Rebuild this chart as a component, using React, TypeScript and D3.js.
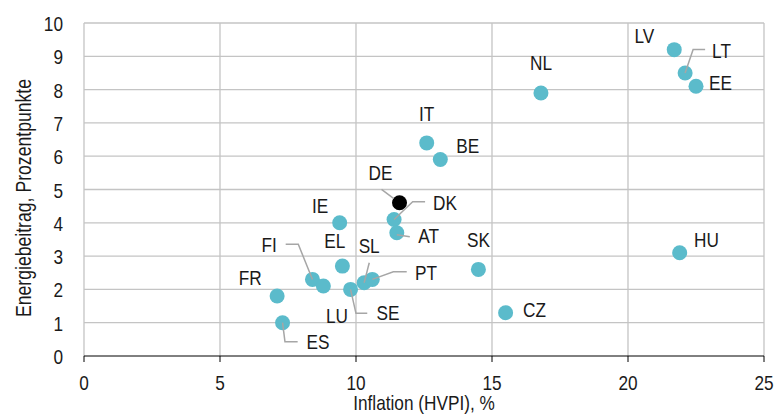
import React from "react";
import * as d3 from "d3";

const countries = ["LV", "LT", "EE", "NL", "IT", "BE", "DE", "DK", "AT", "IE", "EL", "SK", "HU", "CZ", "FI", "LU", "SE", "SL", "PT", "FR", "ES"];
const inflation = [21.7, 22.1, 22.5, 16.8, 12.6, 13.1, 11.6, 11.4, 11.5, 9.4, 9.5, 14.5, 21.9, 15.5, 8.4, 8.8, 9.8, 10.3, 10.6, 7.1, 7.3];
const energy = [9.2, 8.5, 8.1, 7.9, 6.4, 5.9, 4.6, 4.1, 3.7, 4.0, 2.7, 2.6, 3.1, 1.3, 2.3, 2.1, 2.0, 2.2, 2.3, 1.8, 1.0];
const highlighted = ["DE"];
const xTicks = [0, 5, 10, 15, 20, 25];
const yTicks = [0, 1, 2, 3, 4, 5, 6, 7, 8, 9, 10];
const xTitle = "Inflation (HVPI), %";
const yTitle = "Energiebeitrag, Prozentpunkte";

// label layout: offsets (px) from the point, anchor, optional leader polyline
type Lay = { dx: number; dy: number; anchor: string; leader?: [number, number][] };
const labelLayout: Record<string, Lay> = {
  LV: { dx: -20, dy: -7, anchor: "end" },
  LT: { dx: 27, dy: -15, anchor: "start", leader: [[0, 0], [8, -23.5], [20, -23.5]] },
  EE: { dx: 13, dy: 4, anchor: "start" },
  NL: { dx: 0, dy: -23, anchor: "middle" },
  IT: { dx: 0, dy: -22, anchor: "middle" },
  BE: { dx: 16, dy: -7, anchor: "start" },
  DE: { dx: -7, dy: -23, anchor: "end", leader: [[-18, -13.5], [-6, -4.5]] },
  DK: { dx: 39, dy: -9.5, anchor: "start", leader: [[0, 0], [18.6, -17.8], [31, -17.8]] },
  AT: { dx: 21.5, dy: 10.5, anchor: "start", leader: [[0, 2], [13, 4]] },
  IE: { dx: -11.5, dy: -9.5, anchor: "end" },
  EL: { dx: -7.7, dy: -18, anchor: "middle" },
  SK: { dx: 0, dy: -22.5, anchor: "middle" },
  HU: { dx: 14.3, dy: -6, anchor: "start" },
  CZ: { dx: 17.4, dy: 4.6, anchor: "start" },
  FI: { dx: -35.8, dy: -27.7, anchor: "end", leader: [[0, 0], [-14.2, -35.1], [-26.8, -35.1]] },
  LU: { dx: 2.6, dy: 37.2, anchor: "start" },
  SE: { dx: 26, dy: 30.6, anchor: "start", leader: [[0, 0], [5.4, 23.9], [16.7, 23.9]] },
  SL: { dx: 5, dy: -29.4, anchor: "middle", leader: [[0, 0], [5.1, -20]] },
  PT: { dx: 42.7, dy: 0.6, anchor: "start", leader: [[0, 0], [21, -7.7], [34.4, -7.7]] },
  FR: { dx: -15.4, dy: -11, anchor: "end" },
  ES: { dx: 24, dy: 26.3, anchor: "start", leader: [[0, 0], [2.4, 19], [15.1, 19]] },
};

const W = 774;
const H = 415;
const FONT = "'Liberation Sans', Arial, sans-serif";
const NARROW = 0.82;
const FS = 21;

function NText({ x, y, anchor = "start", rotate = 0, size = FS, children }: { x: number; y: number; anchor?: string; rotate?: number; size?: number; children: React.ReactNode }) {
  return (
    <g transform={`translate(${x},${y}) rotate(${rotate}) scale(${NARROW},1)`}>
      <text x={0} y={0} textAnchor={anchor} fontSize={size} fill="#1a1a1a">
        {children}
      </text>
    </g>
  );
}

export default function App() {
  const x = d3.scaleLinear().domain([0, 25]).range([84, 764]);
  const y = d3.scaleLinear().domain([0, 10]).range([356, 23]);
  const line = d3.line<[number, number]>();
  const gridColor = "#c4c4c4";
  const teal = "#5bbbcb";

  const pts = countries.map((c, i) => ({ c, px: x(inflation[i]), py: y(energy[i]), hl: highlighted.includes(c) }));

  return (
    <svg width={W} height={H} style={{ position: "absolute", left: 0, top: 0, background: "#fff" }} fontFamily={FONT}>
      <rect x={0} y={0} width={W} height={H} fill="#fff" />
      {yTicks.filter((t) => t > 0).map((t) => (
        <line key={"gy" + t} x1={x(0)} x2={x(25)} y1={y(t)} y2={y(t)} stroke={gridColor} strokeWidth={1.3} />
      ))}
      {xTicks.map((t) => (
        <line key={"gx" + t} x1={x(t)} x2={x(t)} y1={y(10)} y2={y(0)} stroke={gridColor} strokeWidth={1.3} />
      ))}
      <line x1={x(0)} x2={x(25)} y1={y(0)} y2={y(0)} stroke="#000" strokeWidth={1} />
      {xTicks.map((t) => (
        <line key={"xt" + t} x1={x(t)} x2={x(t)} y1={y(0)} y2={y(0) + 6} stroke="#000" strokeWidth={1} />
      ))}
      {xTicks.map((t) => (
        <NText key={"xl" + t} x={x(t)} y={y(0) + 34} anchor="middle">
          {t}
        </NText>
      ))}
      {yTicks.map((t) => (
        <NText key={"yl" + t} x={63} y={y(t) + 8} anchor="end">
          {t}
        </NText>
      ))}
      <NText x={(x(0) + x(25)) / 2} y={410} anchor="middle">
        {xTitle}
      </NText>
      <NText x={31} y={198} anchor="middle" rotate={-90} size={21.5}>
        {yTitle}
      </NText>
      {pts.map((p) => (
        <circle key={"p" + p.c} cx={p.px} cy={p.py} r={7.5} fill={p.hl ? "#000" : teal} />
      ))}
      {pts.map((p) => {
        const l = labelLayout[p.c];
        if (!l || !l.leader) return null;
        return (
          <path
            key={"ld" + p.c}
            d={line(l.leader.map(([a, b]) => [p.px + a, p.py + b]) as [number, number][]) || ""}
            fill="none"
            stroke="#a6a6a6"
            strokeWidth={1.5}
          />
        );
      })}
      {pts.map((p) => {
        const l = labelLayout[p.c];
        return (
          <NText key={"lb" + p.c} x={p.px + l.dx} y={p.py + l.dy} anchor={l.anchor}>
            {p.c}
          </NText>
        );
      })}
    </svg>
  );
}
